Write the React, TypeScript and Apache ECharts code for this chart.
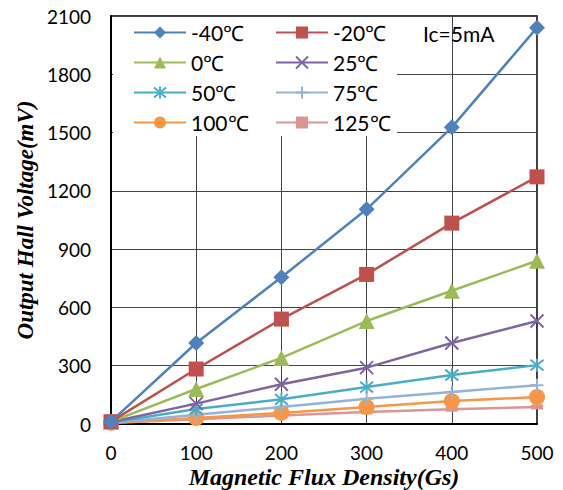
import React, { useEffect, useRef } from "react";
import * as echarts from "echarts";

const xValues = [0, 100, 200, 300, 400, 500];
const seriesNames = ["-40℃", "-20℃", "0℃", "25℃", "50℃", "75℃", "100℃", "125℃"];
const tM40 = [12, 417, 755, 1105, 1527, 2040];
const tM20 = [12, 283, 540, 770, 1034, 1272];
const t0 = [12, 180, 340, 530, 686, 840];
const t25 = [10, 105, 205, 290, 417, 530];
const t50 = [8, 77, 127, 190, 252, 303];
const t75 = [7, 48, 88, 130, 165, 200];
const t100 = [6, 31, 57, 88, 118, 139];
const t125 = [5, 24, 44, 62, 76, 88];
const allData = [tM40, tM20, t0, t25, t50, t75, t100, t125];
const colors = ["#4F81BD", "#C0504D", "#9BBB59", "#8064A2", "#4BACC6", "#95B3D7", "#F79646", "#D99694"];
const symbols = [
  "diamond",
  "rect",
  "triangle",
  "path://M0,0L10,10M10,0L0,10",
  "path://M0,0L10,10M10,0L0,10M5,-1L5,11",
  "path://M5,0L5,10M0,5L10,5",
  "circle",
  "path://M0,0L10,0L10,4L0,4Z",
];
const symbolSizes: any[] = [16, 15, 16, 13, 13, 13, 16, [12, 5]];
const strokeSymbol = [false, false, false, true, true, true, false, false];

export default function App() {
  const ref = useRef<HTMLDivElement>(null);
  useEffect(() => {
    const chart = echarts.init(ref.current!, null, { renderer: "svg" });
    const font = "Lato";
    const series = seriesNames.map((name, i) => ({
      name,
      type: "line",
      data: xValues.map((x, j) => [x, allData[i][j]]),
      symbol: symbols[i],
      symbolSize: symbolSizes[i],
      showSymbol: true,
      lineStyle: { color: colors[i], width: 2.5 },
      itemStyle: strokeSymbol[i]
        ? { color: colors[i], borderColor: colors[i], borderWidth: 2 }
        : { color: colors[i], borderWidth: 0 },
      z: 10 - i,
    }));
    const legendCommon = {
      orient: "vertical",
      top: 17,
      itemWidth: 52,
      itemHeight: 15,
      itemGap: 9,
      textStyle: { fontFamily: font, fontSize: 21, color: "#000", lineHeight: 20 },
      z: 20,
    };
    const nameStyle = {
      fontFamily: "Liberation Serif",
      fontStyle: "italic",
      fontWeight: "bold",
      fontSize: 23,
      color: "#000",
    };
    chart.setOption({
      animation: false,
      backgroundColor: "#fff",
      grid: {
        left: 111,
        right: 26,
        top: 16,
        bottom: 66,
        show: true,
        borderColor: "#000",
        borderWidth: 1.5,
        outerBoundsMode: "none",
      },
      xAxis: {
        type: "value",
        min: 0,
        max: 500,
        interval: 100,
        name: "Magnetic Flux Density(Gs)",
        nameLocation: "middle",
        nameGap: 41,
        nameMoveOverlap: false,
        nameTextStyle: { ...nameStyle, fontSize: 24 },
        axisLine: { lineStyle: { color: "#000", width: 2 } },
        axisTick: { show: false },
        axisLabel: { fontFamily: font, fontSize: 19, color: "#000", margin: 19 },
        splitLine: { show: true, lineStyle: { color: "#444", width: 1 } },
      },
      yAxis: {
        type: "value",
        min: 0,
        max: 2100,
        interval: 300,
        name: "Output Hall Voltage(mV)",
        nameLocation: "middle",
        nameGap: 74,
        nameMoveOverlap: false,
        nameTextStyle: nameStyle,
        axisLine: { show: true, lineStyle: { color: "#000", width: 2 } },
        axisTick: { show: false },
        axisLabel: {
          fontFamily: font,
          fontSize: 19,
          color: "#000",
          margin: 20,
          formatter: (v: number) => String(v),
        },
        splitLine: { show: true, lineStyle: { color: "#444", width: 1 } },
      },
      legend: [
        { ...legendCommon, left: 128, data: ["-40℃", "0℃", "50℃", "100℃"] },
        { ...legendCommon, left: 270, data: ["-20℃", "25℃", "75℃", "125℃"] },
      ],
      graphic: [
        {
          type: "rect",
          left: 113,
          top: 17,
          shape: { width: 284, height: 119 },
          style: { fill: "#fff" },
          z: 5,
        },
        {
          type: "text",
          left: 423,
          top: 23,
          style: { text: "Ic=5mA", fontFamily: font, fontSize: 21, fill: "#000" },
          z: 20,
        },
      ],
      series,
    });
    return () => chart.dispose();
  }, []);
  return (
    <div
      ref={ref}
      style={{ position: "absolute", left: 0, top: 0, width: 563, height: 490 }}
    />
  );
}
